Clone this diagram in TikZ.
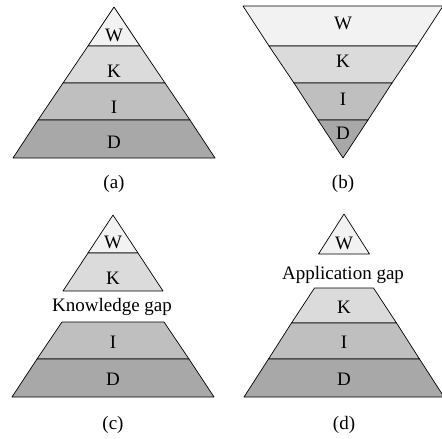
\documentclass[tikz,border=0pt]{standalone}
\usepackage{fontspec}
\setmainfont{Liberation Serif}

\colorlet{wcol}{black!5}
\colorlet{kcol}{black!14}
\colorlet{icol}{black!25}
\colorlet{dcol}{black!34}

\tikzset{
  layer/.style={draw=black,line width=0.7pt,line join=round},
  lbl/.style={anchor=base,inner sep=0pt,font=\fontsize{19}{22}\selectfont}
}

% one band: centre x, top y, top half width, bottom y, bottom half width, colour
\newcommand{\band}[6]{%
  \filldraw[layer,fill=#6] ({#1-#3},#2)--({#1+#3},#2)--({#1+#5},#4)--({#1-#5},#4)--cycle;}

\begin{document}
\begin{tikzpicture}[x=1pt,y=-1pt]
  \useasboundingbox (0,0) rectangle (442,439);

  % (a)
  \foreach \ya/\wa/\yb/\wb/\col in {7/0/46/26/wcol,46/26/83/51/kcol,83/51/120/76/icol,120/76/158/101/dcol}
    {\band{114}{\ya}{\wa}{\yb}{\wb}{\col}}
  \foreach \n/\y in {W/41,K/77,I/113,D/148}
    {\node[lbl] (a\n) at (114,\y) {\n};}
  \node[lbl] (capa) at (114,188) {(a)};

  % (b)
  \foreach \ya/\wa/\yb/\wb/\col in {6/100/46/74/wcol,46/74/83/49/kcol,83/49/120/25/icol,120/25/158/0/dcol}
    {\band{343}{\ya}{\wa}{\yb}{\wb}{\col}}
  \foreach \n/\y in {W/30,K/67,I/105,D/139}
    {\node[lbl] (b\n) at (343,\y) {\n};}
  \node[lbl] (capb) at (343,188) {(b)};

  % (c)
  \foreach \ya/\wa/\yb/\wb/\col in {215/0/253/25/wcol,253/25/291/50/kcol,322/51/359/76/icol,359/76/397/101/dcol}
    {\band{113}{\ya}{\wa}{\yb}{\wb}{\col}}
  \foreach \n/\y in {W/248,K/284,I/348,D/385}
    {\node[lbl] (c\n) at (113,\y) {\n};}
  \node[lbl] (gapc) at (112,311) {Knowledge gap};
  \node[lbl] (capc) at (113,429) {(c)};

  % (d)
  \foreach \ya/\wa/\yb/\wb/\col in {214/0/254/25.5/wcol,288/29.5/323/52.5/kcol,323/52.5/359/75.5/icol,359/75.5/397/100/dcol}
    {\band{344}{\ya}{\wa}{\yb}{\wb}{\col}}
  \foreach \n/\y in {W/249,K/313,I/348,D/385}
    {\node[lbl] (d\n) at (344,\y) {\n};}
  \node[lbl] (gapd) at (343,279) {Application gap};
  \node[lbl] (capd) at (344,429) {(d)};
\end{tikzpicture}
\end{document}
